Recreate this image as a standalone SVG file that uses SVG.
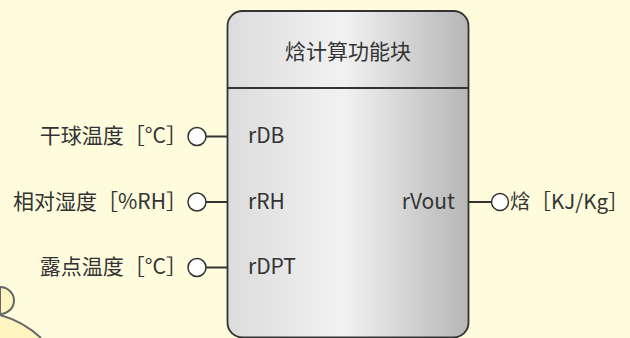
<svg xmlns="http://www.w3.org/2000/svg" width="630" height="338" viewBox="0 0 630 338">
<defs>
<linearGradient id="boxGrad" x1="227" y1="0" x2="469" y2="0" gradientUnits="userSpaceOnUse">
<stop offset="0" stop-color="#dcdcdc"/>
<stop offset="0.48" stop-color="#f2f2f2"/>
<stop offset="1" stop-color="#b6b6b6"/>
</linearGradient>
</defs>
<style>
.lbl{font-family:"Noto Sans CJK SC","Noto Sans",sans-serif;font-size:21px;fill:#333333}
.pin{fill:#ffffff;stroke:#333333;stroke-width:1.5}
.wire{stroke:#333333;stroke-width:2;fill:none}
</style>
<rect x="0" y="0" width="630" height="338" fill="#fffbdd"/>
<g id="mascot">
<path d="M0,287 A14,13.5 0 0 1 0,314 Z" fill="#fff5c0" stroke="#666666" stroke-width="2"/>
<path d="M0,315 A100,100 0 0 1 41,338 L0,338 Z" fill="#fff5c0"/>
<path d="M0,315 A100,100 0 0 1 41,338" fill="none" stroke="#666666" stroke-width="2"/>
</g>
<g id="block">
<rect x="227.5" y="11" width="241" height="326.5" rx="15" ry="15" fill="url(#boxGrad)" stroke="#333333" stroke-width="1.8"/>
<line x1="227.5" y1="88" x2="468.5" y2="88" stroke="#333333" stroke-width="1.8"/>
<text class="lbl" x="348" y="59" text-anchor="middle">焓计算功能块</text>
<text class="lbl" x="248" y="143">rDB</text>
<text class="lbl" x="248" y="209">rRH</text>
<text class="lbl" x="248" y="274">rDPT</text>
<text class="lbl" x="455" y="209" text-anchor="end">rVout</text>
</g>
<g id="connectors">
<line class="wire" x1="206" y1="136.5" x2="227" y2="136.5"/>
<line class="wire" x1="206" y1="202" x2="227" y2="202"/>
<line class="wire" x1="206" y1="267.5" x2="227" y2="267.5"/>
<line class="wire" x1="469" y1="202" x2="491" y2="202"/>
</g>
<g id="in-db">
<circle class="pin" cx="197" cy="136.5" r="9"/>
<text class="lbl" x="187" y="143" text-anchor="end">干球温度［°C］</text>
</g>
<g id="in-rh">
<circle class="pin" cx="197" cy="202" r="9"/>
<text class="lbl" x="187" y="209" text-anchor="end">相对湿度［%RH］</text>
</g>
<g id="in-dpt">
<circle class="pin" cx="197" cy="267.5" r="9"/>
<text class="lbl" x="187" y="274" text-anchor="end">露点温度［°C］</text>
</g>
<g id="out-h">
<circle class="pin" cx="500" cy="202" r="8.5"/>
<text class="lbl" x="510" y="209" style="font-size:20.5px">焓［KJ/Kg］</text>
</g>
</svg>
